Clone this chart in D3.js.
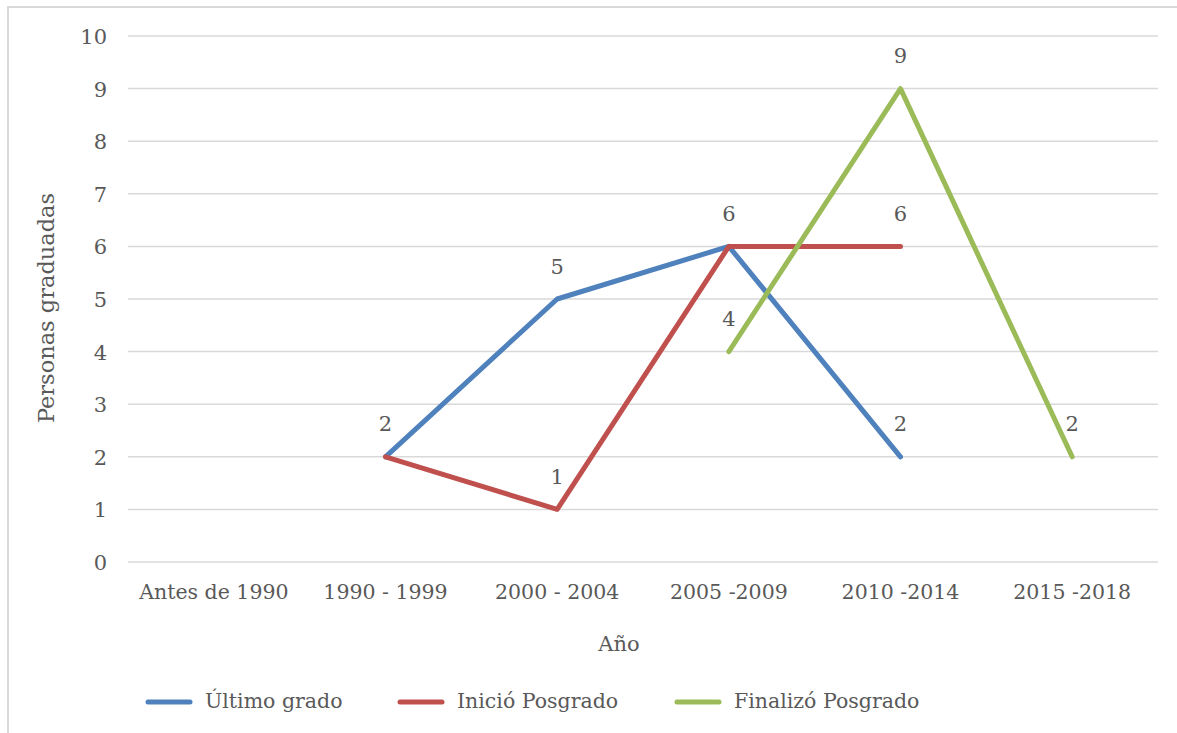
<!DOCTYPE html>
<html>
<head>
<meta charset="utf-8">
<script src="https://cdn.jsdelivr.net/npm/d3@7"></script>
<style>
  html, body { margin: 0; padding: 0; background: #fff; }
  svg { display: block; }
  text { font-family: "DejaVu Serif", "Liberation Serif", serif; fill: #595959; }
</style>
</head>
<body>
<svg id="chart" width="1177" height="733"></svg>
<script>
// Period categories on the x axis
const categories = ["Antes de 1990", "1990 - 1999", "2000 - 2004", "2005 -2009", "2010 -2014", "2015 -2018"];

// Series values per period (null = no data for that period)
const ultimoGrado      = [null, 2, 5, 6, 2, null];
const inicioPosgrado   = [null, 2, 1, 6, 6, null];
const finalizoPosgrado = [null, null, null, 4, 9, 2];

// Y-axis tick values
const yTicks = [0, 1, 2, 3, 4, 5, 6, 7, 8, 9, 10];

const seriesNames  = ["Último grado", "Inició Posgrado", "Finalizó Posgrado"];
const seriesColors = ["#4f81bd", "#c0504d", "#9bbb59"];
const seriesValues = [ultimoGrado, inicioPosgrado, finalizoPosgrado];

// Which series carries the value label at each period (avoids stacked duplicates)
const labelShown = [
  [false, true, true, true, true, false],
  [false, false, true, false, true, false],
  [false, false, false, true, true, true]
];

const svg = d3.select("#chart");

// Outer chart frame
svg.append("rect")
  .attr("x", 8).attr("y", 7)
  .attr("width", 1200).attr("height", 760)
  .attr("fill", "none")
  .attr("stroke", "#d9d9d9")
  .attr("stroke-width", 2);

const plot = { left: 128, right: 1158, top: 36, bottom: 562 };

const x = d3.scaleBand()
  .domain(categories)
  .range([plot.left, plot.right])
  .paddingInner(0).paddingOuter(0);

const y = d3.scaleLinear()
  .domain([0, 10])
  .range([plot.bottom, plot.top]);

// Horizontal gridlines
svg.append("g")
  .selectAll("line")
  .data(yTicks)
  .join("line")
  .attr("x1", plot.left).attr("x2", plot.right)
  .attr("y1", d => y(d)).attr("y2", d => y(d))
  .attr("stroke", "#d9d9d9")
  .attr("stroke-width", 1.5);

// Y axis labels
const yAxis = d3.axisLeft(y).tickValues(yTicks).tickSize(0).tickPadding(0).tickFormat(d3.format("d"));
const yg = svg.append("g")
  .attr("transform", `translate(${plot.left - 21},0)`)
  .call(yAxis);
yg.select(".domain").remove();
yg.selectAll("text")
  .attr("font-size", 21)
  .attr("font-family", "DejaVu Serif, serif")
  .attr("fill", "#595959")
  .attr("dy", "0.36em");

// X axis labels
const xAxis = d3.axisBottom(x).tickSize(0).tickPadding(0);
const xg = svg.append("g")
  .attr("transform", `translate(0,${plot.bottom + 30})`)
  .call(xAxis);
xg.select(".domain").remove();
xg.selectAll("text")
  .attr("font-size", 20.5)
  .attr("font-family", "DejaVu Serif, serif")
  .attr("fill", "#595959")
  .attr("dy", "0.36em");

// Axis titles
svg.append("text")
  .attr("x", (plot.left + plot.right) / 2 - 24)
  .attr("y", 645)
  .attr("text-anchor", "middle")
  .attr("dominant-baseline", "middle")
  .attr("font-size", 21)
  .text("Año");

svg.append("text")
  .attr("transform", `translate(48,${(plot.top + plot.bottom) / 2 + 9}) rotate(-90)`)
  .attr("text-anchor", "middle")
  .attr("dominant-baseline", "middle")
  .attr("font-size", 22.5)
  .text("Personas graduadas");

// Series lines
const cx = c => x(c) + x.bandwidth() / 2;
const line = d3.line()
  .defined(d => d.v !== null)
  .x(d => cx(d.c))
  .y(d => y(d.v));

seriesValues.forEach((vals, i) => {
  const pts = vals.map((v, j) => ({ c: categories[j], v }));
  svg.append("path")
    .datum(pts)
    .attr("d", line)
    .attr("fill", "none")
    .attr("stroke", seriesColors[i])
    .attr("stroke-width", 5)
    .attr("stroke-linejoin", "round")
    .attr("stroke-linecap", "round");
});

// Value labels above points
seriesValues.forEach((vals, i) => {
  vals.forEach((v, j) => {
    if (v === null || !labelShown[i][j]) return;
    svg.append("text")
      .attr("x", cx(categories[j]))
      .attr("y", y(v) - 31)
      .attr("text-anchor", "middle")
      .attr("dominant-baseline", "middle")
      .attr("font-size", 21)
      .attr("fill", "#404040")
      .text(v);
  });
});

// Legend
const legendItems = [
  { name: seriesNames[0], color: seriesColors[0], x: 148 },
  { name: seriesNames[1], color: seriesColors[1], x: 400 },
  { name: seriesNames[2], color: seriesColors[2], x: 677 }
];
const lg = svg.append("g");
legendItems.forEach(it => {
  lg.append("line")
    .attr("x1", it.x).attr("x2", it.x + 42)
    .attr("y1", 702).attr("y2", 702)
    .attr("stroke", it.color)
    .attr("stroke-width", 5)
    .attr("stroke-linecap", "round");
  lg.append("text")
    .attr("x", it.x + 57)
    .attr("y", 702)
    .attr("dominant-baseline", "middle")
    .attr("font-size", 20.5)
    .text(it.name);
});
</script>
</body>
</html>
